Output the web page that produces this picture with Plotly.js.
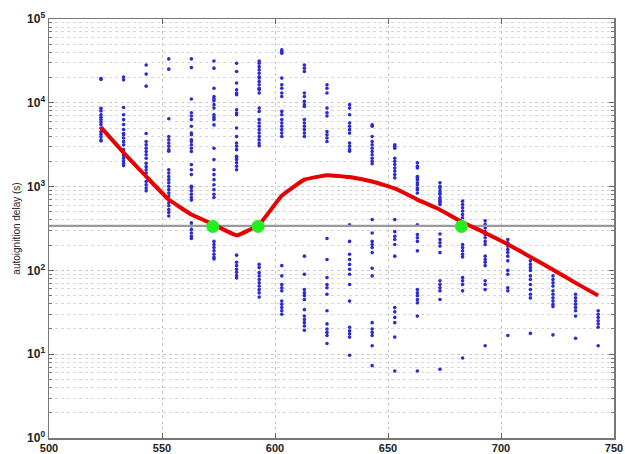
<!DOCTYPE html>
<html>
<head>
<meta charset="utf-8">
<script src="https://cdn.plot.ly/plotly-3.0.1.min.js"></script>
<style>html,body{margin:0;padding:0;background:#fff;}#chart{width:625px;height:454px;}</style>
</head>
<body>
<div id="chart"></div>
<script>
// Temperatures of the scatter columns
const temps = [523, 533, 543, 553, 563, 573, 583, 593, 603, 613, 623, 633, 643, 653, 663, 673, 683, 693, 703, 713, 723, 733, 743];

// Autoignition delay samples (s) for each temperature column
const d523 = [19500, 19000, 8600, 8000, 7200, 6700, 6300, 5900, 5500, 5000, 4500, 4200, 3900, 3600, 3500];
const d533 = [20300, 18800, 8800, 7200, 6300, 5500, 4800, 4300, 4150, 3800, 3450, 3150, 2760, 2500, 2350, 2180, 2020, 1890, 1780];
const d543 = [28300, 22000, 15800, 4300, 3450, 3150, 2870, 2620, 2400, 2180, 1900, 1730, 1590, 1450, 1320, 1150, 1050, 960, 890];
const d553 = [33400, 25200, 6450, 3960, 3630, 3320, 3040, 2760, 2640, 1590, 1450, 1320, 1210, 1110, 1010, 920, 840, 770, 640, 590, 532, 490, 445];
const d563 = [33400, 26300, 11100, 7600, 6950, 6300, 5250, 4350, 4150, 3630, 3450, 3150, 2870, 2620, 1830, 1590, 1390, 1010, 970, 890, 810, 740, 690, 370, 340, 307, 280, 256, 240];
const d573 = [31600, 25900, 14900, 11900, 11200, 10600, 9500, 8650, 7200, 6700, 6300, 5450, 2870, 2100, 1590, 1390, 1210, 1050, 920, 810, 740, 222, 204, 187, 171, 156, 143, 137];
const d583 = [29700, 23600, 17200, 14300, 13100, 12500, 8260, 7560, 7200, 5000, 3960, 3320, 3040, 2760, 2300, 2200, 2100, 1920, 1750, 1590, 152, 125, 114, 103, 95, 87, 81];
const d593 = [31600, 29700, 27000, 24700, 22500, 20500, 19700, 17900, 16400, 14900, 14300, 13100, 8650, 7900, 6300, 5750, 5250, 4780, 4350, 3960, 3630, 3320, 3080, 118, 108, 94, 86, 78, 71, 65, 59, 54, 48];
const d603 = [42800, 40900, 39000, 19700, 16400, 14900, 13100, 11900, 7900, 7200, 6300, 5750, 5250, 4780, 4350, 3960, 114, 86, 68, 62, 57, 43, 39.5, 36, 33, 30];
const d613 = [28300, 25900, 23600, 13100, 11900, 10400, 9500, 9040, 6300, 5750, 5250, 4780, 4350, 3960, 148, 90, 59, 54, 50, 45, 34, 28.5, 26, 23.8, 21.7, 19.3];
const d623 = [16400, 14900, 13100, 8650, 7600, 6950, 4550, 4150, 3800, 3450, 240, 135, 82, 68, 62, 52, 33, 23, 20, 18.2, 16.7, 13.4];
const d633 = [9500, 8650, 7200, 5750, 5250, 4780, 4350, 3320, 3040, 2760, 2640, 350, 222, 156, 135, 118, 103, 90, 68, 43, 21, 19, 17.5, 16, 9.7];
const d643 = [5450, 5250, 3960, 3450, 3150, 2870, 2620, 2400, 2180, 2000, 1870, 404, 280, 222, 204, 187, 163, 106, 86, 23.8, 20, 18.2, 16.7, 12.6, 7.3];
const d653 = [3150, 3040, 2870, 2180, 2000, 1830, 1670, 1530, 1390, 1270, 404, 290, 256, 234, 204, 148, 36, 32, 27.5, 23.8, 16, 6.3];
const d663 = [1920, 1750, 1670, 1320, 1270, 1210, 1110, 1050, 960, 920, 840, 350, 268, 245, 222, 171, 59, 54, 50, 45, 41, 28.5, 6.3];
const d673 = [1110, 1010, 960, 890, 840, 810, 740, 700, 670, 640, 610, 272, 234, 214, 195, 163, 75, 68, 62, 57, 45, 6.6];
const d683 = [670, 610, 560, 510, 465, 425, 370, 204, 187, 171, 156, 145, 82, 75, 68, 57, 9];
const d693 = [390, 355, 320, 290, 268, 245, 222, 204, 148, 135, 125, 114, 75, 68, 59, 12.6];
const d703 = [234, 214, 195, 178, 163, 148, 130, 100, 90, 62, 57, 16.7];
const d713 = [130, 118, 108, 100, 86, 78, 68, 59, 52, 47, 17.7];
const d723 = [86, 78, 71, 65, 57, 52, 47, 43, 39.5, 37, 17];
const d733 = [52, 47, 43, 39.5, 36, 33, 28.5, 15.5];
const d743 = [33, 30, 27.5, 25, 23, 21, 12.6];
const delayColumns = [d523, d533, d543, d553, d563, d573, d583, d593, d603, d613, d623, d633, d643, d653, d663, d673, d683, d693, d703, d713, d723, d733, d743];

// Fitted curve (red)
const fitDelay = [5100, 2550, 1320, 700, 465, 352, 262, 352, 780, 1210, 1370, 1300, 1150, 950, 700, 530, 375, 280, 205, 145, 102, 71, 50];

// Threshold level and crossing points (green)
const threshold = 340;
const crossTemps = [572.5, 592.5, 682.5];
const crossDelay = [335, 335, 335];

// Axis ticks
const yTickVals = [1, 10, 100, 1000, 10000, 100000];
const yTickText = ['10<sup>0</sup>', '10<sup>1</sup>', '10<sup>2</sup>', '10<sup>3</sup>', '10<sup>4</sup>', '10<sup>5</sup>'];
const xRange = [500, 750];

const scatterX = [];
const scatterY = [];
temps.forEach((t, i) => {
  delayColumns[i].forEach(v => { scatterX.push(t); scatterY.push(v); });
});

const traces = [
  {
    x: scatterX, y: scatterY, type: 'scatter', mode: 'markers',
    marker: {color: '#2b2bd6', size: 3.6}, hoverinfo: 'x+y'
  },
  {
    x: xRange, y: [threshold, threshold], type: 'scatter', mode: 'lines',
    line: {color: '#9a9a9a', width: 2.2}
  },
  {
    x: temps, y: fitDelay, type: 'scatter', mode: 'lines',
    line: {color: '#e80000', width: 4, shape: 'spline', smoothing: 0.3}
  },
  {
    x: crossTemps, y: crossDelay, type: 'scatter', mode: 'markers',
    marker: {color: '#22ee22', size: 13}
  }
];

const gridCol = '#c8c8c8';
const layout = {
  width: 625, height: 454,
  margin: {l: 49, r: 9, t: 19, b: 15},
  paper_bgcolor: '#ffffff', plot_bgcolor: '#ffffff',
  showlegend: false,
  font: {family: 'Liberation Sans, Arial, sans-serif', color: '#222'},
  xaxis: {
    range: xRange, dtick: 50, tick0: 500,
    ticks: 'inside', ticklen: 5, tickcolor: '#666',
    showline: true, linecolor: '#777', linewidth: 1.5, mirror: 'ticks',
    showgrid: true, gridcolor: gridCol, griddash: 'dot', gridwidth: 1,
    zeroline: false, ticklabeloverflow: 'allow', ticklabelstandoff: -1,
    tickfont: {size: 11, weight: 700, color: '#222'}
  },
  yaxis: {
    type: 'log', range: [0, 5],
    tickmode: 'array', tickvals: yTickVals, ticktext: yTickText,
    ticks: 'inside', ticklen: 5, tickcolor: '#666',
    showline: true, linecolor: '#777', linewidth: 1.5, mirror: 'ticks',
    showgrid: true, gridcolor: gridCol, griddash: 'dot', gridwidth: 1,
    zeroline: false, ticklabeloverflow: 'allow', automargin: true,
    minor: {dtick: 'D1', ticks: 'inside', ticklen: 3, tickcolor: '#777', showgrid: true, gridcolor: '#d8d8d8', griddash: 'dot', gridwidth: 1},
    tickfont: {size: 12, weight: 700, color: '#222'},
    title: {text: 'autoignition delay (s)', font: {size: 10, color: '#222'}, standoff: 4}
  }
};

Plotly.newPlot('chart', traces, layout, {staticPlot: true, displayModeBar: false});
</script>
</body>
</html>
